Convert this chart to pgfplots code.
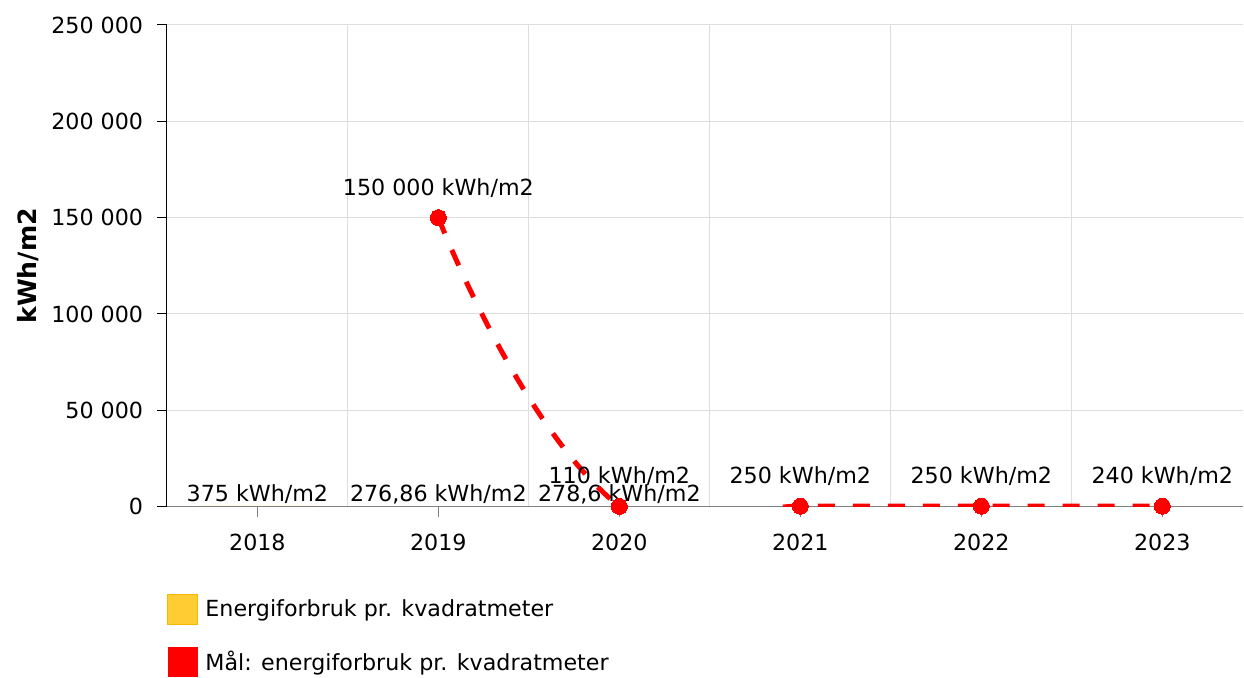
\documentclass[border=0pt]{standalone}
\usepackage{fontspec}
\setmainfont{DejaVu Sans}
\usepackage{pgfplots}
\pgfplotsset{compat=1.18}
\definecolor{barY}{RGB}{255,204,51}
\definecolor{barYb}{RGB}{245,184,0}
\definecolor{gridc}{RGB}{222,222,222}
\definecolor{xaxc}{RGB}{128,128,128}
\begin{document}
\fontsize{11.1}{13}\selectfont
\begin{tikzpicture}
\begin{axis}[
  set layers,
  at={(83.5pt,85pt)}, anchor=south west,
  scale only axis, width=538.5pt, height=241pt,
  xmin=-0.5, xmax=5.447, ymin=0, ymax=250000,
  axis lines=left, axis line style={-},
  x axis line style={xaxc, line width=0.8pt},
  y axis line style={black, line width=0.6pt},
  xtick={0,1,2,3,4,5}, xticklabels={2018,2019,2020,2021,2022,2023},
  minor xtick={0.5,1.5,2.5,3.5,4.5},
  ytick={0,50000,100000,150000,200000,250000},
  yticklabels={0,50 000,100 000,150 000,200 000,250 000},
  scaled y ticks=false,
  ymajorgrids, xminorgrids, xmajorgrids=false,
  grid style={gridc, line width=0.5pt},
  minor tick length=0pt, major tick length=5pt, tick align=outside,
  xtick style={xaxc, line width=0.5pt},
  ytick style={black, line width=0.5pt},
  ticklabel style={font=\fontsize{11.1}{13}\selectfont},
  xticklabel style={yshift=-5pt},
  yticklabel style={xshift=-3pt},
  ylabel={\textbf{kWh/m2}},
  ylabel style={at={(axis description cs:-0.129,0.5)}, anchor=center, font=\fontsize{12.6}{14}\selectfont},
  legend style={at={(0,-0.1805)}, anchor=north west, draw=none, fill=none,
    inner sep=0pt, outer sep=0pt, row sep=11pt,
    nodes={inner sep=0pt, anchor=west, font=\fontsize{11.1}{13}\selectfont}},
  legend cell align=left,
  clip=true,
]
\addplot[on layer=axis background, ybar, bar width=60pt, bar shift=0pt, fill=barY, draw=none,
  nodes near coords, point meta=explicit symbolic,
  nodes near coords style={black, anchor=center, yshift=6pt, font=\fontsize{11.1}{13}\selectfont},
  legend image code/.code={\draw[barYb, fill=barY, line width=0.8pt] (0pt,-7.5pt) rectangle (15pt,7.5pt);}]
  table[meta=label] {
x y label
0 375 {375 kWh/m2}
1 276.86 {276,86 kWh/m2}
2 278.6 {278,6 kWh/m2}
};
\addlegendentry{\hspace*{3.5pt}Energiforbruk pr. kvadratmeter}
\addplot[red, smooth, tension=1, line width=2.5pt, dash pattern=on 8.5pt off 9pt,
  mark=*, mark size=4pt, mark options={solid, fill=red, draw=red, line width=0pt},
  nodes near coords, point meta=explicit symbolic,
  nodes near coords style={black, solid, anchor=center, yshift=15pt, font=\fontsize{11.1}{13}\selectfont},
  legend image code/.code={\path[fill=red, draw=none, solid, line width=0pt] (0pt,-7.5pt) rectangle (15pt,7.5pt);}]
  table[meta=label] {
x y label
1 150000 {150 000 kWh/m2}
2 110 {110 kWh/m2}
3 250 {250 kWh/m2}
4 250 {250 kWh/m2}
5 240 {240 kWh/m2}
};
\addlegendentry{\hspace*{3.5pt}Mål: energiforbruk pr. kvadratmeter}
\end{axis}
\path (0,0) rectangle (622pt,338.5pt);
\end{tikzpicture}
\end{document}
